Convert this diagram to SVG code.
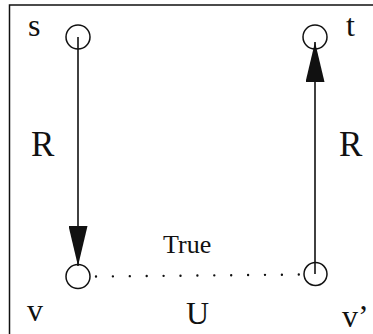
<svg xmlns="http://www.w3.org/2000/svg" width="373" height="334" viewBox="0 0 373 334">
<style>
.frame{fill:none;stroke:#111;stroke-width:1.5}
.node{fill:none;stroke:#111;stroke-width:1.5}
.edge{fill:none;stroke:#111;stroke-width:1.6}
.dots{fill:none;stroke:#111;stroke-width:2.4;stroke-linecap:round;stroke-dasharray:0 16.9}
text{font-family:"Liberation Serif","Times New Roman",serif;fill:#111}
.lbl{font-size:32px}
.big{font-size:35px}
.mid{font-size:26px}
</style>
<defs>
<marker id="head" markerUnits="userSpaceOnUse" viewBox="0 0 40 19" refX="40" refY="9.5" markerWidth="40" markerHeight="19" orient="auto">
<path d="M0,0 L40,9.5 L0,19 z" fill="#111"/>
</marker>
</defs>
<g id="frame">
<path class="frame" d="M9.5,334 L9.5,5 L373,5"/>
</g>
<g id="connectors">
<line class="edge" x1="78" y1="37" x2="78" y2="266" marker-end="url(#head)"/>
<line class="edge" x1="315" y1="274" x2="315" y2="42" marker-end="url(#head)"/>
<line class="dots" x1="96" y1="276.5" x2="301" y2="274.5"/>
<text class="big" x="31" y="156">R</text>
<text class="big" x="339" y="156">R</text>
<text class="mid" x="163" y="253">True</text>
<text class="lbl" x="186" y="324">U</text>
</g>
<g id="node-s">
<circle class="node" cx="78" cy="37" r="12"/>
<text class="lbl" x="28" y="36">s</text>
</g>
<g id="node-t">
<circle class="node" cx="315" cy="37" r="12"/>
<text class="lbl" x="346" y="36">t</text>
</g>
<g id="node-v">
<circle class="node" cx="78" cy="276.5" r="12"/>
<text class="lbl" x="27" y="321">v</text>
</g>
<g id="node-v2">
<circle class="node" cx="315.5" cy="274" r="11.5"/>
<text class="lbl" x="342" y="327">v’</text>
</g>
</svg>
